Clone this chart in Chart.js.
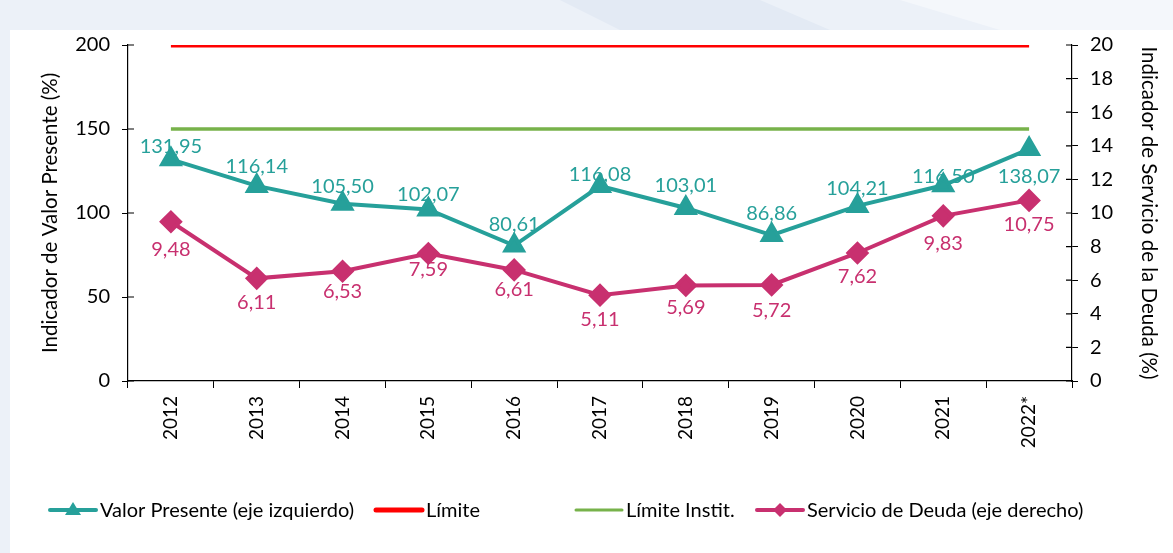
<!DOCTYPE html>
<html>
<head>
<meta charset="utf-8">
<script src="https://cdn.jsdelivr.net/npm/chart.js@4.4.1/dist/chart.umd.min.js"></script>
<style>
  html, body { margin: 0; padding: 0; background: #fff; }
  #wrap { width: 1173px; height: 553px; }
</style>
</head>
<body>
<div id="wrap"><canvas id="grafico" width="1173" height="553"></canvas></div>
<script>
// datos
const anios = ["2012", "2013", "2014", "2015", "2016", "2017", "2018", "2019", "2020", "2021", "2022*"];
const valorPresente = [131.95, 116.14, 105.50, 102.07, 80.61, 116.08, 103.01, 86.86, 104.21, 116.50, 138.07];
const servicioDeuda = [9.48, 6.11, 6.53, 7.59, 6.61, 5.11, 5.69, 5.72, 7.62, 9.83, 10.75];
const limite = [200, 200, 200, 200, 200, 200, 200, 200, 200, 200, 200];
const limiteInstit = [150, 150, 150, 150, 150, 150, 150, 150, 150, 150, 150];
const ticksIzq = [0, 50, 100, 150, 200];
const ticksDer = [0, 2, 4, 6, 8, 10, 12, 14, 16, 18, 20];

// desplazamiento vertical de las etiquetas (px)
const dyValor = [-13, -19, -17, -15, -21, -11, -22, -22, -17, -9, 28];
const dyServicio = [28, 24, 20, 16, 20, 24, 22, 26, 24, 28, 24];

const FUENTE = "Lato, 'Open Sans', sans-serif";
const TEAL = "#26a09a";
const ROSA = "#c8306f";

const fondo = {
  id: "fondo",
  beforeDraw(chart) {
    const c = chart.ctx;
    c.save();
    c.fillStyle = "#ecf1f8";
    c.fillRect(0, 0, chart.width, chart.height);
    c.fillStyle = "#e3eaf4";
    c.beginPath();
    c.moveTo(560, 0); c.lineTo(620, 30); c.lineTo(830, 30); c.lineTo(760, 0);
    c.fill();
    c.fillStyle = "#f4f7fb";
    c.beginPath();
    c.moveTo(900, 0); c.lineTo(1000, 30); c.lineTo(1173, 30); c.lineTo(1173, 0);
    c.fill();
    c.fillStyle = "#ffffff";
    c.fillRect(10, 30, chart.width - 10, chart.height - 30);
    c.restore();
  }
};

// marcas de eje que cruzan la línea
const marcas = {
  id: "marcas",
  afterDraw(chart) {
    const c = chart.ctx;
    const { y, y1 } = chart.scales;
    c.save();
    c.strokeStyle = "#000";
    c.lineWidth = 1.2;
    c.beginPath();
    y.ticks.forEach((t, i) => {
      const py = y.getPixelForTick(i);
      c.moveTo(y.right, py); c.lineTo(y.right + 6, py);
    });
    y1.ticks.forEach((t, i) => {
      const py = y1.getPixelForTick(i);
      c.moveTo(y1.left - 6, py); c.lineTo(y1.left, py);
    });
    c.stroke();
    c.restore();
  }
};

const etiquetas = {
  id: "etiquetas",
  afterDatasetsDraw(chart) {
    const c = chart.ctx;
    c.save();
    c.font = "20px " + FUENTE;
    c.textAlign = "center";
    c.textBaseline = "middle";
    [[0, valorPresente, dyValor, TEAL], [3, servicioDeuda, dyServicio, ROSA]].forEach(([idx, vals, dys, col]) => {
      const meta = chart.getDatasetMeta(idx);
      c.fillStyle = col;
      meta.data.forEach((p, i) => {
        c.fillText(vals[i].toFixed(2).replace(".", ","), p.x, p.y + dys[i]);
      });
    });
    c.restore();
  }
};

const leyenda = {
  id: "leyenda",
  afterDraw(chart) {
    const c = chart.ctx;
    const items = [
      { t: "Valor Presente (eje izquierdo)", col: TEAL, w: 4, m: "tri", x: 50 },
      { t: "Límite", col: "#ff0000", w: 5, m: null, x: 376 },
      { t: "Límite Instit.", col: "#77b24a", w: 3, m: null, x: 576 },
      { t: "Servicio de Deuda (eje derecho)", col: ROSA, w: 4, m: "dia", x: 757 }
    ];
    c.save();
    c.font = "20px " + FUENTE;
    c.textBaseline = "middle";
    const largo = 46, gap = 4;
    const py = 510;
    items.forEach(it => {
      const px = it.x;
      c.strokeStyle = it.col;
      c.lineWidth = it.w;
      c.lineCap = "round";
      c.beginPath();
      c.moveTo(px, py); c.lineTo(px + largo, py);
      c.stroke();
      c.fillStyle = it.col;
      const cx = px + largo / 2;
      if (it.m === "tri") {
        c.beginPath();
        c.moveTo(cx, py - 8); c.lineTo(cx + 8, py + 5); c.lineTo(cx - 8, py + 5);
        c.closePath(); c.fill();
      } else if (it.m === "dia") {
        c.beginPath();
        c.moveTo(cx, py - 7); c.lineTo(cx + 7, py); c.lineTo(cx, py + 7); c.lineTo(cx - 7, py);
        c.closePath(); c.fill();
      }
      c.fillStyle = "#000";
      c.fillText(it.t, px + largo + gap, py + 1);
    });
    c.restore();
  }
};

const ctx = document.getElementById("grafico").getContext("2d");
new Chart(ctx, {
  type: "line",
  data: {
    labels: anios,
    datasets: [
      {
        label: "Valor Presente (eje izquierdo)",
        data: valorPresente,
        yAxisID: "y",
        borderColor: TEAL,
        backgroundColor: TEAL,
        borderWidth: 4,
        pointStyle: "triangle",
        pointRadius: 10,
        pointHoverRadius: 10,
        order: 1
      },
      {
        label: "Límite",
        data: limite,
        yAxisID: "y",
        borderColor: "#ff0000",
        borderWidth: 5,
        pointRadius: 0,
        order: 3
      },
      {
        label: "Límite Instit.",
        data: limiteInstit,
        yAxisID: "y",
        borderColor: "#77b24a",
        borderWidth: 3.5,
        pointRadius: 0,
        order: 3
      },
      {
        label: "Servicio de Deuda (eje derecho)",
        data: servicioDeuda,
        yAxisID: "y1",
        borderColor: ROSA,
        backgroundColor: ROSA,
        borderWidth: 4,
        pointStyle: "rectRot",
        pointRadius: 9,
        pointHoverRadius: 9,
        order: 2
      }
    ]
  },
  options: {
    responsive: false,
    animation: false,
    layout: { padding: { top: 45, bottom: 0, left: 0, right: 0 } },
    plugins: { legend: { display: false }, tooltip: { enabled: false } },
    scales: {
      x: {
        offset: true,
        grid: { offset: true, drawOnChartArea: false, color: "#000", tickLength: 7 },
        border: { color: "#000", width: 1.2 },
        ticks: { color: "#000", font: { family: FUENTE, size: 19 }, minRotation: 90, maxRotation: 90, padding: 8 },
        afterFit(s) { s.height = 172; }
      },
      y: {
        position: "left",
        min: 0, max: 200,
        afterBuildTicks(s) { s.ticks = ticksIzq.map(v => ({ value: v })); },
        grid: { drawOnChartArea: false, color: "#000", tickLength: 6 },
        border: { color: "#000", width: 1.2 },
        ticks: { color: "#000", font: { family: FUENTE, size: 20 }, padding: 12 },
        title: { display: true, text: "Indicador de Valor Presente (%)", color: "#000", font: { family: FUENTE, size: 20.5 }, padding: { top: 38, bottom: 0 } },
        afterFit(s) { s.width = 128; }
      },
      y1: {
        position: "right",
        min: 0, max: 20,
        afterBuildTicks(s) { s.ticks = ticksDer.map(v => ({ value: v })); },
        grid: { drawOnChartArea: false, color: "#000", tickLength: 6 },
        border: { color: "#000", width: 1.2 },
        ticks: { color: "#000", font: { family: FUENTE, size: 20 }, padding: 12 },
        title: { display: true, text: "Indicador de Servicio de la Deuda (%)", color: "#000", font: { family: FUENTE, size: 20.5 }, padding: { top: 12, bottom: 0 } },
        afterFit(s) { s.width = 101; }
      }
    }
  },
  plugins: [fondo, marcas, etiquetas, leyenda]
});
</script>
</body>
</html>
